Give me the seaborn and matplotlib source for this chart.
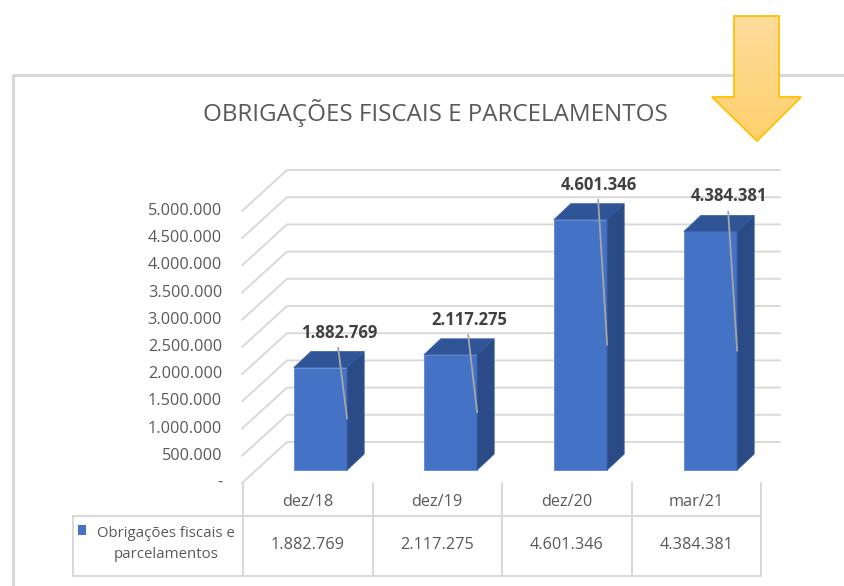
import matplotlib
matplotlib.use('Agg')
import matplotlib.pyplot as plt
from matplotlib.patches import Polygon, Rectangle
import numpy as np
import seaborn as sns

# data
periods = ['dez/18', 'dez/19', 'dez/20', 'mar/21']
values = [1882769, 2117275, 4601346, 4384381]
series_name = 'Obrigações fiscais e\nparcelamentos'
y_ticks = list(range(0, 5000001, 500000))
title = 'OBRIGAÇÕES FISCAIS E PARCELAMENTOS'


def fmt(v):
    return '-' if v == 0 else f'{v:,.0f}'.replace(',', '.')


W, H = 844, 586
sns.set_style('white')
plt.rcParams['font.family'] = ['Open Sans', 'DejaVu Sans']

FRONT, TOP, SIDE = '#4472C4', '#2F5597', '#2A4B86'
GRID, TXT = '#D9D9D9', '#595959'
FS = 11.7

fig = plt.figure(figsize=(W / 100, H / 100), dpi=100)

# pixel-space layer for the frame, table and arrow
deco = fig.add_axes([0, 0, 1, 1])
deco.set_xlim(0, W)
deco.set_ylim(H, 0)
deco.axis('off')

# data layer: category index on x, value on y
ax = fig.add_axes([0, 0, 1, 1])
ax.patch.set_alpha(0)

X0, XS = 320.5, 130.0   # pixel of first bar centre, pixels per category
Y0, YS = 470.0, 54.4e-6  # pixel of value zero, pixels per unit value


def xd(p):
    return (p - X0) / XS


def dy(p):
    return p / YS


BAR_W = 0.41
BDX, BDY = 17 / XS, dy(16)

sns.barplot(x=periods, y=values, color=FRONT, saturation=1, width=BAR_W,
            errorbar=None, ax=ax, zorder=3, edgecolor='#5B87D4', linewidth=0.6)
ax.set_xlim(xd(0), xd(W))
ax.set_ylim((Y0 - H) / YS, Y0 / YS)
ax.axis('off')

# chart frame
deco.plot([13, 13, W], [H, 75, 75], color='#D9D9D9', lw=2.2)

# title
deco.text(435, 113, title, ha='center', va='center', fontsize=17.4, color=TXT)

# walls: side wall diagonals + back wall gridlines
WALL_L, WALL_B, WALL_R = xd(242), xd(287), xd(780)
for v in y_ticks:
    ax.plot([WALL_L, WALL_B, WALL_R], [v - dy(13), v + dy(28), v + dy(28)],
            color=GRID, lw=1.4, zorder=1, solid_joinstyle='miter')
    ax.text(xd(222), v - dy(13), fmt(v), ha='right', va='center',
            fontsize=FS, color=TXT)

# 3D top and side faces, labels with leader lines
for i, v in enumerate(values):
    left, right = i - BAR_W / 2, i + BAR_W / 2
    ax.add_patch(Polygon([(left, v), (right, v), (right + BDX, v + BDY),
                          (left + BDX, v + BDY)], closed=True,
                         facecolor=TOP, edgecolor='#3A63AD', lw=0.6, zorder=4))
    ax.add_patch(Polygon([(right, 0), (right, v), (right + BDX, v + BDY),
                          (right + BDX, BDY)], closed=True,
                         facecolor=SIDE, edgecolor='#34589A', lw=0.6, zorder=4))
    lx, ly = right - 8 / XS, v + BDY + dy(19)
    ax.text(lx, ly, fmt(v), ha='center', va='center', fontsize=12,
            fontweight='bold', color='#404040', zorder=6)
    ax.plot([lx - 1 / XS, right], [ly - dy(15), v / 2], color='#A6A6A6',
            lw=1.3, zorder=5)

# data table
edges = [243 + 129.5 * k for k in range(len(periods) + 1)]
for e in edges:
    deco.plot([e, e], [483, 576], color=GRID, lw=1.5)
deco.plot([73, 73], [516, 576], color=GRID, lw=1.5)
for yy in (516, 576):
    deco.plot([73, edges[-1]], [yy, yy], color=GRID, lw=1.5)
for k, (p, v) in enumerate(zip(periods, values)):
    cx = (edges[k] + edges[k + 1]) / 2
    deco.text(cx, 502, p, ha='center', va='center', fontsize=FS, color=TXT)
    deco.text(cx, 545, fmt(v), ha='center', va='center', fontsize=FS, color=TXT)
deco.add_patch(Rectangle((78, 525), 8, 10, facecolor=FRONT, edgecolor='none'))
deco.text(166, 544, series_name, ha='center', va='center', fontsize=10.8,
          color=TXT, linespacing=1.55, multialignment='center')

# yellow arrow with vertical gradient
arrow_pts = [(734, 16), (779, 16), (779, 97), (801, 97), (757, 141),
             (712, 97), (734, 97)]
arrow = Polygon(arrow_pts, closed=True, facecolor='none', edgecolor='#FFC000',
                lw=1.3, zorder=11)
deco.add_patch(arrow)
grad = np.linspace(0, 1, 128).reshape(-1, 1)
cmap = matplotlib.colors.LinearSegmentedColormap.from_list('y', ['#FDDC9C', '#FFD06C'])
img = deco.imshow(grad, cmap=cmap, extent=(712, 801, 141, 16), aspect='auto',
                  zorder=10, origin='upper')
img.set_clip_path(arrow)
deco.set_xlim(0, W)
deco.set_ylim(H, 0)

fig.savefig('out.png', dpi=100)
